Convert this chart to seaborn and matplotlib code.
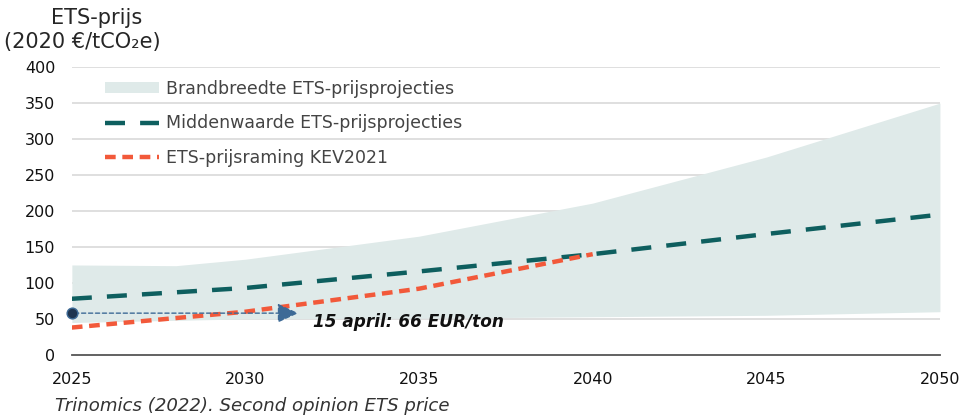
import numpy as np
import pandas as pd
import matplotlib.pyplot as plt
import seaborn as sns
from matplotlib.patches import Patch
from matplotlib.lines import Line2D

# data
years = [2025, 2028, 2030, 2035, 2040, 2045, 2050]
band_low = [45, 48, 50, 51, 53, 55, 60]
band_high = [125, 124, 133, 165, 211, 275, 350]
mid_years = [2025, 2030, 2035, 2040, 2045, 2050]
mid_values = [78, 93, 116, 140, 168, 195]
kev_years = [2025, 2030, 2035, 2040]
kev_values = [38, 60, 92, 140]
spot_year = 2025
spot_price = 58
arrow_end = 2031.6
y_ticks = [0, 50, 100, 150, 200, 250, 300, 350, 400]
x_ticks = [2025, 2030, 2035, 2040, 2045, 2050]

sns.set_style("white")
plt.rcParams['font.family'] = ['DejaVu Sans']

band_col = '#dfeae9'
teal = '#0e5f5f'
red = '#f2593a'

fig = plt.figure(figsize=(9.71, 4.17), dpi=100)
ax = fig.add_axes([0.074, 0.149, 0.894, 0.69])

for t in y_ticks[1:]:
    ax.axhline(t, color='#d9d9d9', lw=1.2, zorder=0)

ax.fill_between(years, band_low, band_high, color=band_col, lw=0, zorder=1)

mid_df = pd.DataFrame({'jaar': mid_years, 'prijs': mid_values})
kev_df = pd.DataFrame({'jaar': kev_years, 'prijs': kev_values})
sns.lineplot(data=mid_df, x='jaar', y='prijs', ax=ax, color=teal, lw=3.2,
             zorder=3)
ax.lines[-1].set_dashes([4.5, 3.4])
sns.lineplot(data=kev_df, x='jaar', y='prijs', ax=ax, color=red, lw=3.2,
             zorder=4)
ax.lines[-1].set_dashes([2.4, 1.5])

ax.annotate('', xy=(arrow_end, spot_price), xytext=(spot_year, spot_price),
            arrowprops=dict(arrowstyle='-|>,head_length=1.3,head_width=0.6',
                            color='#3d6a96', lw=1, ls=(0, (3, 2))), zorder=5)
ax.scatter([spot_year], [spot_price], s=60, color='#1f3550',
           edgecolor='#3d6a96', zorder=6, clip_on=False)
ax.text(2031.95, 46, '15 april: 66 EUR/ton', fontsize=12.2, fontweight='bold',
        style='italic', color='#111111', va='center', ha='left', zorder=6)

ax.set_xlim(2025, 2050)
ax.set_ylim(0, 400)
ax.set_xticks(x_ticks)
ax.set_yticks(y_ticks)
ax.set_xlabel('')
ax.set_ylabel('')
ax.tick_params(axis='x', length=5, width=1.2, color='#555555', labelsize=11.5,
               pad=7, labelcolor='#111111')
ax.tick_params(axis='y', length=0, labelsize=11.5, pad=12,
               labelcolor='#111111')
for s in ['top', 'right', 'left']:
    ax.spines[s].set_visible(False)
ax.spines['bottom'].set_color('#555555')
ax.spines['bottom'].set_linewidth(1.3)

handles = [Patch(facecolor=band_col, edgecolor='none'),
           Line2D([], [], color=teal, lw=3.2, dashes=[4.5, 3.4]),
           Line2D([], [], color=red, lw=3.2, dashes=[2.4, 1.5])]
labels = ['Brandbreedte ETS-prijsprojecties',
          'Middenwaarde ETS-prijsprojecties',
          'ETS-prijsraming KEV2021']
leg = ax.legend(handles, labels, loc='upper left', bbox_to_anchor=(0.02, 1.01),
                frameon=False, handlelength=3.1, handleheight=0.6,
                labelspacing=0.95, handletextpad=0.45,
                prop={'family': ['DejaVu Sans'], 'size': 12.5})
for t in leg.get_texts():
    t.set_color('#444444')

fig.text(0.053, 0.958, 'ETS-prijs', fontsize=15, ha='left', va='center')
fig.text(0.004, 0.9, '(2020 €/tCO\u2082e)', fontsize=15, ha='left',
         va='center')
fig.text(0.057, 0.027, 'Trinomics (2022). Second opinion ETS price',
         fontsize=13.1, style='italic', color='#333333', ha='left',
         va='center')

fig.savefig('out.png', dpi=100)
